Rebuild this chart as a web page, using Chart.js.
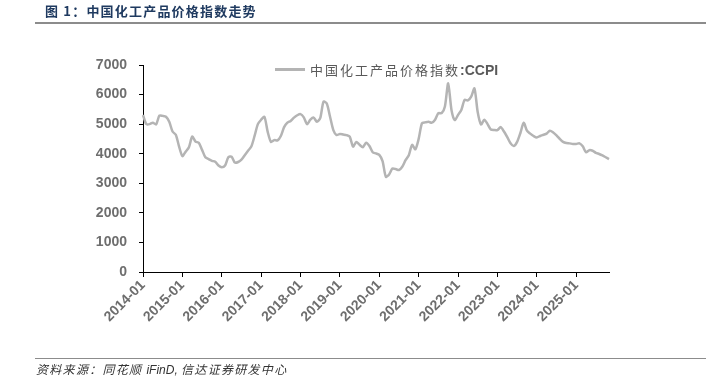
<!DOCTYPE html>
<html>
<head>
    <meta charset="utf-8">
    <title>中国化工产品价格指数走势</title>
    <script src="https://cdnjs.cloudflare.com/ajax/libs/Chart.js/4.4.1/chart.umd.min.js"></script>
    <style>
        body { margin: 0; background: #fff; }
        .page { position: relative; width: 706px; height: 383px; overflow: hidden; }
        .title {
            position: absolute; left: 45px; top: 1px; letter-spacing: 1.2px;
            font: bold 13px "Noto Sans CJK SC", sans-serif; color: #1f3a60;
        }
        .rule { position: absolute; left: 35px; right: 0; height: 2px; background: #8c8c8c; }
        .legend {
            position: absolute; left: 275px; top: 60px;
            font: 13px "Noto Sans CJK SC", sans-serif; color: #595959; letter-spacing: 2px;
            display: flex; align-items: center;
        }
        .legend b { font: bold 14px "Liberation Sans", Arial, sans-serif; letter-spacing: 0; }
        .legend span.swatch { display: inline-block; width: 30px; height: 3px; background: #b4b4b4; margin-right: 5px; }
        .source {
            position: absolute; left: 36px; top: 360px; letter-spacing: 1.3px;
            font: italic 12px "Noto Sans CJK SC", sans-serif; color: #333;
        }
        .source i { font-family: "Liberation Sans", Arial, sans-serif; letter-spacing: 0; }
        canvas { position: absolute; left: 0; top: 0; }
    </style>
</head>
<body>
<div class="page">
    <canvas id="myChart" width="706" height="383"></canvas>
    <div class="title">图 1：中国化工产品价格指数走势</div>
    <div class="rule" style="top:22px"></div>
    <div class="legend"><span class="swatch"></span>中国化工产品价格指数<b>:CCPI</b></div>
    <div class="rule" style="top:358px;height:1px"></div>
    <div class="source">资料来源：同花顺 <i>iFinD, </i>信达证券研发中心</div>
</div>

<script>
    // monthly readings, 2014-01 .. 2025-11
    const startYear = 2014;
    const ccpi = [
        5310, 5000, 5000, 5050, 4990, 5290, 5280, 5250, 5080, 4750, 4640, 4240, // 2014
        3920, 4070, 4220, 4580, 4410, 4370, 4130, 3880, 3820, 3760, 3730, 3600, // 2015
        3540, 3600, 3880, 3900, 3700, 3720, 3800, 3950, 4100, 4240, 4600, 5000, // 2016
        5150, 5250, 4740, 4400, 4460, 4450, 4600, 4900, 5050, 5110, 5220, 5300, // 2017
        5340, 5230, 5000, 5150, 5220, 5080, 5200, 5760, 5700, 5250, 4800, 4630, // 2018
        4670, 4650, 4630, 4580, 4240, 4400, 4300, 4220, 4370, 4260, 4050, 4010, // 2019
        3960, 3750, 3220, 3300, 3500, 3480, 3450, 3560, 3780, 3950, 4300, 4150, // 2020
        4500, 5030, 5060, 5080, 5050, 5150, 5370, 5370, 5600, 6380, 5480, 5140, // 2021
        5310, 5480, 5820, 5800, 5930, 6210, 5400, 4990, 5150, 5000, 4820, 4800, // 2022
        4800, 4900, 4750, 4560, 4350, 4260, 4400, 4700, 5050, 4780, 4680, 4600, // 2023
        4550, 4600, 4640, 4680, 4780, 4720, 4620, 4500, 4400, 4360, 4350, 4330, // 2024
        4330, 4350, 4250, 4050, 4120, 4100, 4030, 3990, 3940, 3880, 3820        // 2025
    ];
    const months = ccpi.map((v, i) =>
        (startYear + Math.floor(i / 12)) + '-' + String(i % 12 + 1).padStart(2, '0'));
    const yTicks = [0, 1000, 2000, 3000, 4000, 5000, 6000, 7000];

    const axisFont = { family: '"Liberation Sans", Arial, sans-serif', size: 14, weight: 'bold' };
    const ctx = document.getElementById('myChart').getContext('2d');
    new Chart(ctx, {
        type: 'line',
        data: {
            labels: months,
            datasets: [{
                label: '中国化工产品价格指数:CCPI',
                data: ccpi,
                borderColor: '#b4b4b4',
                borderWidth: 2.5,
                pointRadius: 0,
                tension: 0.25,
                fill: false
            }]
        },
        options: {
            responsive: false,
            animation: false,
            layout: { padding: { left: 0, right: 97, top: 65, bottom: 0 } },
            plugins: { legend: { display: false }, tooltip: { enabled: false } },
            scales: {
                x: {
                    offset: false,
                    border: { color: '#000', width: 1 },
                    grid: { drawOnChartArea: false, drawTicks: true, tickLength: 5, color: '#000' },
                    ticks: {
                        autoSkip: false,
                        maxRotation: 45,
                        minRotation: 45,
                        padding: 0,
                        color: '#6e6e6e',
                        font: axisFont,
                        callback: function(value) {
                            const lab = this.getLabelForValue(value);
                            return lab.endsWith('-01') ? lab : null;
                        }
                    },
                    afterFit: function(scale) { scale.height = 111; }
                },
                y: {
                    min: 0,
                    max: 7000,
                    border: { color: '#000', width: 1 },
                    grid: { drawOnChartArea: false, drawTicks: true, tickLength: 4, color: '#000' },
                    afterBuildTicks: function(scale) { scale.ticks = yTicks.map(v => ({ value: v })); },
                    ticks: {
                        color: '#6e6e6e',
                        font: axisFont,
                        padding: 12,
                        callback: v => String(v)
                    },
                    afterFit: function(scale) { scale.width = 143; }
                }
            }
        }
    });
</script>
</body>
</html>
